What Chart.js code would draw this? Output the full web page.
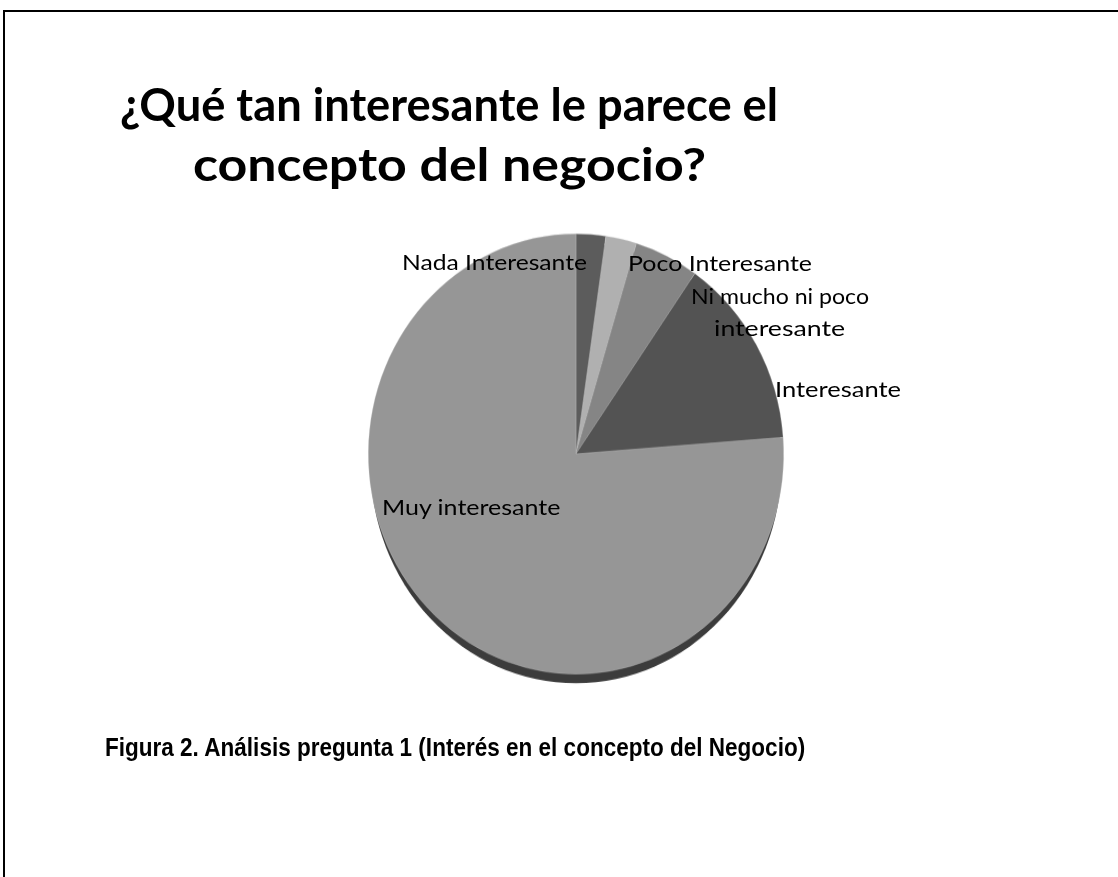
<!DOCTYPE html>
<html>
<head>
<meta charset="utf-8">
<script src="https://cdn.jsdelivr.net/npm/chart.js@4.4.1/dist/chart.umd.min.js"></script>
<style>
  html, body { margin: 0; padding: 0; background: #fff; }
  #page { position: relative; width: 1118px; height: 877px; overflow: hidden; background: #fff; }
  #frame { position: absolute; left: 3px; top: 10px; width: 1200px; height: 1000px; border-top: 2px solid #000; border-left: 2px solid #000; }
  #wrap { position: absolute; left: 0; top: 0; width: 1118px; height: 877px; transform-origin: 576px 454px; transform: scale(1, 1.06); }
  .t { position: absolute; white-space: nowrap; color: #000; transform-origin: 0 50%; }
</style>
</head>
<body>
<div id="page">
  <div id="frame"></div>
  <div id="wrap"><canvas id="cv" width="1118" height="877"></canvas></div>
</div>
<script>
// ---- data ----
const categories = ['Nada Interesante', 'Poco Interesante', 'Ni mucho ni poco interesante', 'Interesante', 'Muy interesante'];
const values = [2.3, 2.4, 5.0, 14.1, 76.2];
const sliceColors = ['#5c5c5c', '#b0b0b0', '#858585', '#535353', '#969696'];
const titleLines = ['¿Qué tan interesante le parece el', 'concepto del negocio?'];
const captionText = 'Figura 2. Análisis pregunta 1 (Interés en el concepto del Negocio)';

// ---- helpers ----
const mctx = document.createElement('canvas').getContext('2d');
function place(text, font, weight, size, x0, x1, cy) {
  mctx.font = weight + ' ' + size + 'px ' + font;
  const w = mctx.measureText(text).width;
  const sx = (x1 - x0) / w;
  const d = document.createElement('div');
  d.className = 't';
  d.textContent = text;
  d.style.fontFamily = font;
  d.style.fontWeight = weight;
  d.style.fontSize = size + 'px';
  d.style.lineHeight = size + 'px';
  d.style.left = x0 + 'px';
  d.style.top = (cy - size * 0.55) + 'px';
  d.style.transform = 'scaleX(' + sx + ')';
  document.getElementById('page').appendChild(d);
}

// title
place(titleLines[0], 'Lato', 'bold', 46, 120, 778, 106);
place(titleLines[1], 'Lato', 'bold', 46, 193, 706, 166);
// caption
place(captionText, '"Liberation Sans", Arial', 'bold', 26, 105, 806, 748);
// slice labels
place('Nada Interesante', 'Lato', 'normal', 21, 402, 587, 263);
place('Poco Interesante', 'Lato', 'normal', 21, 628, 812, 264);
place('Ni mucho ni poco', 'Lato', 'normal', 21, 691, 869, 297);
place('interesante', 'Lato', 'normal', 21, 714, 845, 329);
place('Interesante', 'Lato', 'normal', 21, 775, 901, 390);
place('Muy interesante', 'Lato', 'normal', 21, 382, 561, 508);

// 3D rim under the pie
const rimPlugin = {
  id: 'rim',
  beforeDatasetsDraw(chart) {
    const arc = chart.getDatasetMeta(0).data[0];
    if (!arc) return;
    const { x, y, outerRadius } = arc.getProps(['x', 'y', 'outerRadius'], true);
    const ctx = chart.ctx;
    ctx.save();
    ctx.beginPath();
    ctx.ellipse(x, y + 8.5, outerRadius - 2, outerRadius, 0, 0, Math.PI * 2);
    ctx.fillStyle = '#3c3c3c';
    ctx.fill();
    ctx.restore();
  }
};

new Chart(document.getElementById('cv'), {
  type: 'pie',
  data: {
    labels: categories,
    datasets: [{
      data: values,
      backgroundColor: sliceColors,
      borderColor: 'rgba(200,200,200,0.5)',
      borderWidth: 0.6
    }]
  },
  options: {
    responsive: false,
    animation: false,
    devicePixelRatio: 1,
    layout: { padding: { left: 368, right: 334, top: 246, bottom: 215 } },
    plugins: {
      legend: { display: false },
      tooltip: { enabled: false },
      title: { display: false }
    }
  },
  plugins: [rimPlugin]
});
</script>
</body>
</html>
